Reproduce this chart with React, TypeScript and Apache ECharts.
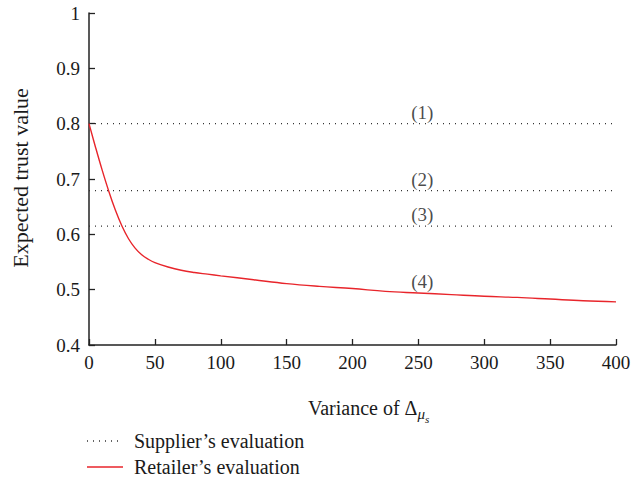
import React, { useEffect, useRef } from "react";
import * as echarts from "echarts";

const xValues = [0, 5, 10, 15, 20, 25, 30, 35, 40, 45, 50, 60, 70, 80, 90, 100, 125, 150, 175, 200, 225, 250, 275, 300, 325, 350, 375, 400];
const retailerValues = [0.8, 0.757, 0.716, 0.678, 0.644, 0.615, 0.592, 0.575, 0.563, 0.555, 0.549, 0.541, 0.535, 0.531, 0.528, 0.525, 0.518, 0.511, 0.506, 0.502, 0.497, 0.494, 0.491, 0.488, 0.486, 0.483, 0.48, 0.478];
const supplierLevels = [0.8, 0.679, 0.615];
const curveLabels = ["(1)", "(2)", "(3)", "(4)"];
const curveLabelX = 253;
const curveLabelY = [0.8, 0.679, 0.615, 0.494];
const xTicks = [0, 50, 100, 150, 200, 250, 300, 350, 400];
const yTicks = [0.4, 0.5, 0.6, 0.7, 0.8, 0.9, 1];

const FONT = "'Liberation Serif', 'DejaVu Serif', serif";
const RED = "#e8252b";
const DOT = "#333";
const TXT = "#1a1a1a";

export default function App() {
  const ref = useRef<HTMLDivElement>(null);
  useEffect(() => {
    if (!ref.current) return;
    const chart = echarts.init(ref.current, undefined, { renderer: "svg" });
    const supplierSeries = supplierLevels.map((v, i) => ({
      type: "line",
      name: "Supplier's evaluation " + i,
      data: [[0, v], [400, v]],
      symbol: "none",
      lineStyle: { color: DOT, width: 1.3, type: [1, 5] },
      silent: true,
    }));
    chart.setOption({
      animation: false,
      grid: { left: 89, right: 21, top: 13, bottom: 134 },
      xAxis: {
        type: "value",
        min: 0,
        max: 400,
        interval: 50,
        axisLine: { lineStyle: { color: "#222", width: 1.5 } },
        axisTick: { inside: true, length: 6, lineStyle: { color: "#222", width: 1.3 } },
        axisLabel: { color: TXT, fontFamily: FONT, fontSize: 19, margin: 8, formatter: (v: number) => (xTicks.includes(v) ? String(v) : "") },
        splitLine: { show: false },
      },
      yAxis: {
        type: "value",
        min: 0.4,
        max: 1,
        interval: 0.1,
        axisLine: { show: true, lineStyle: { color: "#222", width: 1.5 } },
        axisTick: { show: true, inside: true, length: 6, lineStyle: { color: "#222", width: 1.3 } },
        axisLabel: {
          color: TXT,
          fontFamily: FONT,
          fontSize: 19,
          margin: 9,
          formatter: (v: number) => {
            const t = yTicks.find((y) => Math.abs(y - v) < 1e-6);
            return t === undefined ? "" : t === 1 ? "1" : t.toFixed(1);
          },
        },
        splitLine: { show: false },
      },
      series: [
        ...supplierSeries,
        {
          type: "line",
          name: "Retailer's evaluation",
          data: xValues.map((x, i) => [x, retailerValues[i]]),
          symbol: "none",
          smooth: 0.4,
          lineStyle: { color: RED, width: 1.4 },
        },
        {
          type: "scatter",
          data: curveLabelY.map((y, i) => ({ value: [curveLabelX, y], name: curveLabels[i] })),
          symbolSize: 0,
          label: {
            show: true,
            position: "top",
            distance: 2,
            formatter: (p: any) => p.name,
            color: TXT,
            fontFamily: FONT,
            fontSize: 19,
          },
          silent: true,
        },
      ],
      graphic: [
        {
          type: "text",
          x: 20,
          y: 178,
          rotation: Math.PI / 2,
          style: { text: "Expected trust value", fill: TXT, font: `22px ${FONT}`, align: "center", verticalAlign: "middle" },
        },
        {
          type: "text",
          x: 308,
          y: 408,
          style: {
            text: "Variance of Δ{sub|μ}{subsub|s}",
            fill: TXT,
            font: `20px ${FONT}`,
            verticalAlign: "middle",
            rich: {
              sub: { fontFamily: FONT, fontStyle: "italic", fontSize: 15, fill: TXT, padding: [12, 0, 0, 0] },
              subsub: { fontFamily: FONT, fontStyle: "italic", fontSize: 11, fill: TXT, padding: [22, 0, 0, 0] },
            },
          },
        },
        {
          type: "line",
          shape: { x1: 87, y1: 441, x2: 123, y2: 441 },
          style: { stroke: DOT, lineWidth: 1.3, lineDash: [1, 5] },
        },
        {
          type: "text",
          x: 134,
          y: 441,
          style: { text: "Supplier’s evaluation", fill: TXT, font: `20px ${FONT}`, verticalAlign: "middle" },
        },
        {
          type: "line",
          shape: { x1: 87, y1: 467, x2: 123, y2: 467 },
          style: { stroke: RED, lineWidth: 1.4 },
        },
        {
          type: "text",
          x: 134,
          y: 467,
          style: { text: "Retailer’s evaluation", fill: TXT, font: `20px ${FONT}`, verticalAlign: "middle" },
        },
      ],
    });
    return () => chart.dispose();
  }, []);
  return <div ref={ref} style={{ width: 637, height: 479, position: "absolute", left: 0, top: 0 }} />;
}
